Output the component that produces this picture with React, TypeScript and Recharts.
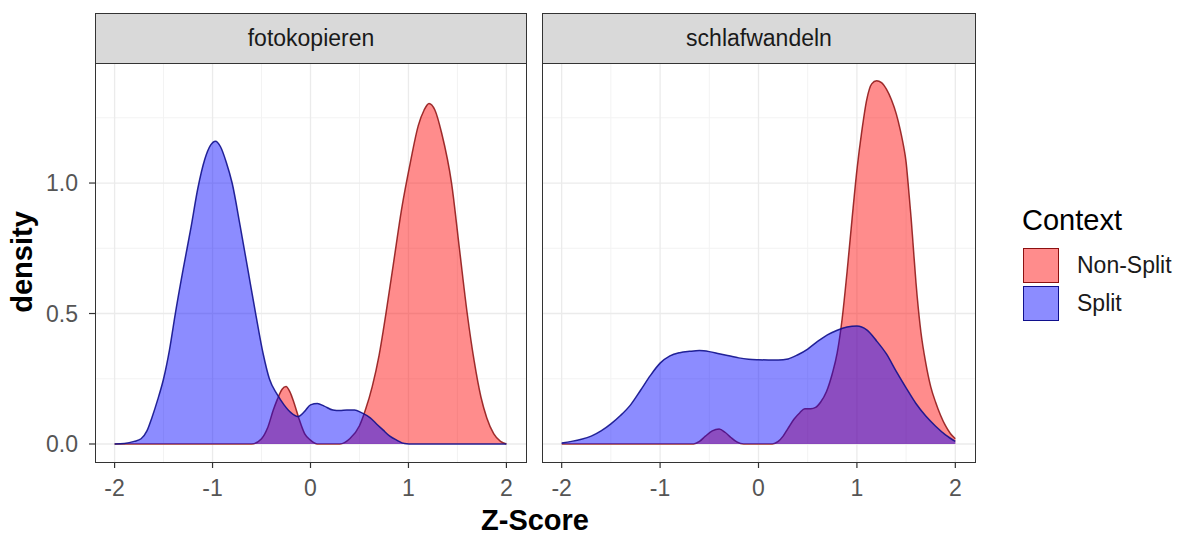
import React from 'react';
import { AreaChart, Area, XAxis, YAxis, CartesianGrid } from 'recharts';

// Kernel density curves read per facet, as [z-score, density] pairs
const fotokopierenNonSplit = [
  [-2, 0], [-1.85, 0], [-0.6, 0], [-0.5, 0.02], [-0.44, 0.06], [-0.38, 0.13], [-0.34, 0.17],
  [-0.29, 0.21], [-0.25, 0.22], [-0.21, 0.2], [-0.17, 0.16], [-0.12, 0.1], [-0.06, 0.04],
  [0, 0.015], [0.07, 0], [0.3, 0], [0.4, 0.02], [0.5, 0.07], [0.56, 0.13], [0.63, 0.22],
  [0.7, 0.34], [0.77, 0.5], [0.85, 0.7], [0.93, 0.9], [1.02, 1.08], [1.1, 1.22], [1.16, 1.28],
  [1.21, 1.305], [1.27, 1.28], [1.34, 1.19], [1.44, 1.0], [1.52, 0.75], [1.6, 0.5], [1.67, 0.32],
  [1.74, 0.18], [1.8, 0.1], [1.87, 0.04], [1.94, 0.01], [2, 0],
];

const fotokopierenSplit = [
  [-2, 0], [-1.9, 0.002], [-1.8, 0.01], [-1.73, 0.02], [-1.67, 0.05], [-1.62, 0.1], [-1.56, 0.17],
  [-1.5, 0.25], [-1.44, 0.36], [-1.38, 0.5], [-1.3, 0.67], [-1.22, 0.83], [-1.15, 0.98],
  [-1.08, 1.09], [-1.02, 1.145], [-0.97, 1.16], [-0.92, 1.14], [-0.86, 1.08], [-0.8, 1.0],
  [-0.72, 0.84], [-0.64, 0.67], [-0.56, 0.5], [-0.48, 0.34], [-0.42, 0.25], [-0.34, 0.19],
  [-0.27, 0.15], [-0.2, 0.12], [-0.13, 0.105], [-0.06, 0.125], [0, 0.15], [0.07, 0.155],
  [0.14, 0.145], [0.23, 0.13], [0.3, 0.128], [0.37, 0.13], [0.45, 0.13], [0.52, 0.12],
  [0.61, 0.1], [0.68, 0.075], [0.74, 0.054], [0.81, 0.03], [0.88, 0.015], [0.96, 0.002],
  [1.05, 0], [2, 0],
];

const schlafwandelnNonSplit = [
  [-2, 0], [-0.66, 0], [-0.6, 0.01], [-0.54, 0.03], [-0.47, 0.05], [-0.4, 0.057], [-0.34, 0.045],
  [-0.28, 0.025], [-0.22, 0.008], [-0.15, 0], [0.14, 0], [0.2, 0.01], [0.25, 0.03], [0.3, 0.06],
  [0.36, 0.095], [0.42, 0.12], [0.47, 0.135], [0.53, 0.135], [0.58, 0.14], [0.63, 0.16],
  [0.69, 0.2], [0.75, 0.27], [0.8, 0.35], [0.85, 0.48], [0.9, 0.66], [0.95, 0.86], [1.0, 1.05],
  [1.05, 1.2], [1.1, 1.32], [1.15, 1.38], [1.2, 1.392], [1.25, 1.385], [1.3, 1.36], [1.35, 1.32],
  [1.4, 1.265], [1.44, 1.205], [1.47, 1.15], [1.5, 1.08], [1.52, 1.0], [1.55, 0.87], [1.57, 0.77],
  [1.6, 0.62], [1.65, 0.43], [1.7, 0.31], [1.75, 0.22], [1.8, 0.16], [1.85, 0.11], [1.9, 0.07],
  [1.95, 0.04], [2, 0.02],
];

const schlafwandelnSplit = [
  [-2, 0.004], [-1.9, 0.01], [-1.8, 0.018], [-1.7, 0.03], [-1.6, 0.05], [-1.5, 0.077],
  [-1.4, 0.11], [-1.3, 0.15], [-1.2, 0.205], [-1.1, 0.262], [-1.0, 0.31], [-0.9, 0.338],
  [-0.8, 0.35], [-0.7, 0.355], [-0.6, 0.358], [-0.5, 0.354], [-0.4, 0.346], [-0.3, 0.338],
  [-0.2, 0.33], [-0.1, 0.325], [0, 0.323], [0.1, 0.322], [0.2, 0.322], [0.3, 0.326],
  [0.4, 0.342], [0.5, 0.364], [0.6, 0.393], [0.7, 0.418], [0.8, 0.436], [0.9, 0.448],
  [1.0, 0.452], [1.1, 0.437], [1.2, 0.395], [1.3, 0.345], [1.4, 0.278], [1.5, 0.215],
  [1.6, 0.155], [1.7, 0.107], [1.8, 0.068], [1.9, 0.035], [2, 0.01],
];

const facetNames = ['fotokopieren', 'schlafwandeln'];
const contextLabels = ['Non-Split', 'Split'];
const xTicks = [-2, -1, 0, 1, 2];
const xMinor = [-1.5, -0.5, 0.5, 1.5];
const yTicks = [0, 0.5, 1.0];
const yMinor = [0.25, 0.75, 1.25];

const X_DOMAIN = [-2.2, 2.2];
const Y_DOMAIN = [-0.069, 1.46];
const FONT = '"Liberation Sans", Arial, sans-serif';
const RED = '#FF0000';
const BLUE = '#0000FF';
const RED_LINE = '#8C1010';
const BLUE_LINE = '#10108C';
const FILL_ALPHA = 0.45;

// union of x positions, each series only filled where it was sampled
function mergeSeries(nonSplit: number[][], split: number[][]) {
  const rows = new Map<number, any>();
  nonSplit.forEach(([z, d]) => rows.set(z, { ...(rows.get(z) || { z }), nonSplit: d }));
  split.forEach(([z, d]) => rows.set(z, { ...(rows.get(z) || { z }), split: d }));
  return Array.from(rows.values()).sort((a, b) => a.z - b.z);
}

const TOP = 63;
const BOTTOM = 462;

function Facet({ title, nonSplit, split, left, width, plotLeft, plotRight, showY }: any) {
  const data = mergeSeries(nonSplit, split);
  const plotW = plotRight - plotLeft;
  return (
    <>
      <div style={{ position: 'absolute', left, top: 0, width, height: 541 }}>
        <AreaChart
          width={width}
          height={541}
          data={data}
          margin={{ top: TOP, right: left + width - plotRight, bottom: 541 - BOTTOM - 45, left: showY ? 0 : plotLeft - left }}
        >
          <CartesianGrid
            stroke="#F3F3F3"
            strokeWidth={1}
            verticalValues={xMinor}
            horizontalValues={yMinor}
          />
          <CartesianGrid
            stroke="#EBEBEB"
            strokeWidth={1.3}
            verticalValues={xTicks}
            horizontalValues={yTicks}
          />
          <XAxis
            dataKey="z"
            type="number"
            domain={X_DOMAIN}
            ticks={xTicks}
            allowDataOverflow
            axisLine={false}
            tickLine={{ stroke: '#333333', strokeWidth: 1.2 }}
            tickSize={6}
            tickMargin={12}
            height={45}
            tick={{ fill: '#555555', fontSize: 23, fontFamily: FONT }}
          />
          <YAxis
            type="number"
            domain={Y_DOMAIN}
            ticks={yTicks}
            allowDataOverflow
            hide={!showY}
            width={95}
            axisLine={false}
            tickLine={{ stroke: '#333333', strokeWidth: 1.2 }}
            tickSize={6}
            tickMargin={11}
            tickFormatter={(v: number) => v.toFixed(1)}
            tick={{ fill: '#555555', fontSize: 23, fontFamily: FONT }}
          />
          <Area
            dataKey="nonSplit"
            type="monotone"
            connectNulls
            baseValue={0}
            fill={RED}
            fillOpacity={FILL_ALPHA}
            stroke={RED_LINE}
            strokeOpacity={0.85}
            strokeWidth={1.5}
            isAnimationActive={false}
          />
          <Area
            dataKey="split"
            type="monotone"
            connectNulls
            baseValue={0}
            fill={BLUE}
            fillOpacity={FILL_ALPHA}
            stroke={BLUE_LINE}
            strokeOpacity={0.9}
            strokeWidth={1.5}
            isAnimationActive={false}
          />
        </AreaChart>
      </div>
      {/* facet strip */}
      <div
        style={{
          position: 'absolute', left: plotLeft, top: 13, width: plotW + 1, height: TOP - 13 + 1,
          boxSizing: 'border-box', background: '#D9D9D9', border: '1.2px solid #333333',
          display: 'flex', alignItems: 'center', justifyContent: 'center',
          fontFamily: FONT, fontSize: 23, color: '#1A1A1A',
        }}
      >
        {title}
      </div>
      {/* panel border */}
      <div
        style={{
          position: 'absolute', left: plotLeft, top: TOP, width: plotW + 1, height: BOTTOM - TOP + 1,
          boxSizing: 'border-box', border: '1.2px solid #333333', pointerEvents: 'none',
        }}
      />
    </>
  );
}

function LegendKey({ color, line, label, top }: any) {
  return (
    <>
      <div
        style={{
          position: 'absolute', left: 1023, top, width: 36, height: 35, boxSizing: 'border-box',
          background: color, border: `1.5px solid ${line}`,
        }}
      />
      <div
        style={{
          position: 'absolute', left: 1077, top, height: 35, display: 'flex', alignItems: 'center',
          fontFamily: FONT, fontSize: 23, color: '#1A1A1A', whiteSpace: 'nowrap',
        }}
      >
        {label}
      </div>
    </>
  );
}

export default function App() {
  return (
    <div style={{ position: 'absolute', left: 0, top: 0, width: 1183, height: 541, background: '#FFFFFF', overflow: 'hidden' }}>
      <Facet
        title={facetNames[0]}
        nonSplit={fotokopierenNonSplit}
        split={fotokopierenSplit}
        left={0}
        width={540}
        plotLeft={95}
        plotRight={526}
        showY
      />
      <Facet
        title={facetNames[1]}
        nonSplit={schlafwandelnNonSplit}
        split={schlafwandelnSplit}
        left={540}
        width={450}
        plotLeft={542}
        plotRight={975}
        showY={false}
      />

      {/* axis titles */}
      <div
        style={{
          position: 'absolute', left: 22, top: 262, transform: 'translate(-50%, -50%) rotate(-90deg)',
          fontFamily: FONT, fontSize: 29, fontWeight: 'bold', color: '#000', whiteSpace: 'nowrap',
        }}
      >
        density
      </div>
      <div
        style={{
          position: 'absolute', left: 535, top: 520, transform: 'translate(-50%, -50%)',
          fontFamily: FONT, fontSize: 29, fontWeight: 'bold', color: '#000', whiteSpace: 'nowrap',
        }}
      >
        Z-Score
      </div>

      {/* legend */}
      <div
        style={{
          position: 'absolute', left: 1022, top: 220, transform: 'translateY(-50%)',
          fontFamily: FONT, fontSize: 29, color: '#000', whiteSpace: 'nowrap',
        }}
      >
        Context
      </div>
      <LegendKey color={`rgba(255,0,0,${FILL_ALPHA})`} line={RED_LINE} label={contextLabels[0]} top={248} />
      <LegendKey color={`rgba(0,0,255,${FILL_ALPHA})`} line={BLUE_LINE} label={contextLabels[1]} top={286} />
    </div>
  );
}
